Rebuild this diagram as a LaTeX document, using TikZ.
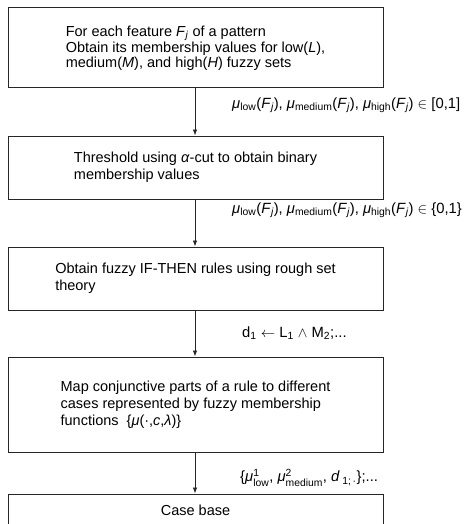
\documentclass[tikz,border=0pt]{standalone}
\usepackage{amsmath}
\usepackage{fontspec}
\setmainfont{Liberation Sans}
\usetikzlibrary{arrows.meta}
\newcommand{\Fj}{\textit{F}$_{\textit{j}}$}
\newcommand{\mus}[1]{\textit{μ}$_{\text{#1}}$}
\tikzset{
  box/.style={draw=black!85, line width=1pt, minimum width=375pt, inner sep=0pt,
    align=left, font=\fontsize{14.5}{17}\selectfont},
  lbl/.style={anchor=west, inner sep=0pt, font=\fontsize{14.8}{17}\selectfont},
  flow/.style={draw=black!85, line width=0.8pt, -{Latex[length=6pt,width=4.5pt]}}
}
\begin{document}
\begin{tikzpicture}[x=1pt,y=-1pt]
\useasboundingbox (0,0) rectangle (473,524);
\node[box, minimum height=80pt, font=\fontsize{14.5}{14.5}\selectfont] (b1) at (195.5,48)
  {For each feature \Fj{} of a pattern\\Obtain its membership values for low(\textit{L}),\\medium(\textit{M}), and high(\textit{H}) fuzzy sets};
\node[box, minimum height=63pt] (b2) at (195.5,167.5)
  {Threshold using \textit{α}-cut to obtain binary\\membership values};
\node[box, minimum height=63pt] (b3) at (195.5,278.5)
  {Obtain fuzzy IF-THEN rules using rough set\\theory};
\node[box, minimum height=95pt] (b4) at (195.5,404.5)
  {Map conjunctive parts of a rule to different\\cases represented by fuzzy membership\\functions\ \ \{\textit{μ}(·,\textit{c},\textit{λ})\}};
\node[box, minimum height=33pt] (b5) at (195.5,510.5) {Case base};
\draw[flow] (b1.south -| 195,0) -- (b2.north -| 195,0);
\draw[flow] (b2.south -| 195,0) -- (b3.north -| 195,0);
\draw[flow] (b3.south -| 195,0) -- (b4.north -| 195,0);
\draw[flow] (b4.south -| 195,0) -- (b5.north -| 195,0);
\node[lbl] (l1) at (232,105) {\mus{low}(\Fj), \mus{medium}(\Fj), \mus{high}(\Fj) $\in$ [0,1]};
\node[lbl] (l2) at (232,210) {\mus{low}(\Fj), \mus{medium}(\Fj), \mus{high}(\Fj) $\in$ \{0,1\}};
\node[lbl] (l3) at (242,333) {d$_{\text{1}}$ $\leftarrow$ L$_{\text{1}}$ $\wedge$ M$_{\text{2}}$;...};
\node[lbl] (l4) at (240,478) {\{\textit{μ}$^{\text{1}}_{\text{low}}$, \textit{μ}$^{\text{2}}_{\text{medium}}$, \textit{d}\,$_{\text{1;\,·}}$\};...};
\end{tikzpicture}
\end{document}
